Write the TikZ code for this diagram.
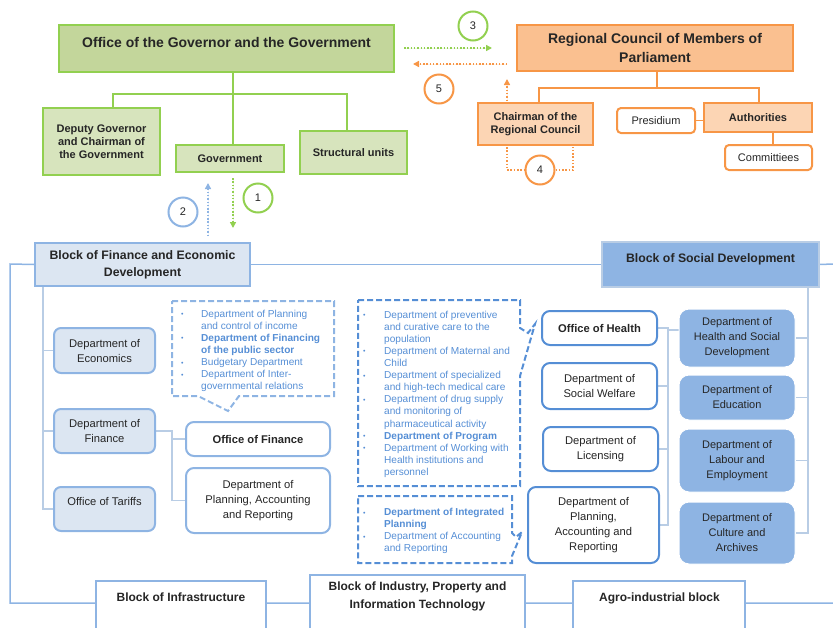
\documentclass[tikz,border=0pt]{standalone}
\usepackage{fontspec}
\setmainfont{Liberation Sans}
\usetikzlibrary{arrows.meta}
\pgfdeclarelayer{bg}
\pgfsetlayers{bg,main}
\definecolor{gline}{HTML}{92D050}
\definecolor{gfill}{HTML}{C3D69B}
\definecolor{gfill2}{HTML}{D7E4BD}
\definecolor{oline}{HTML}{F79646}
\definecolor{ofill}{HTML}{FAC090}
\definecolor{ofill2}{HTML}{FCD5B4}
\definecolor{bline}{HTML}{8EB4E3}
\definecolor{bline2}{HTML}{B9CDE5}
\definecolor{bfill}{HTML}{DCE6F2}
\definecolor{bmid}{HTML}{8EB4E3}
\definecolor{bdark}{HTML}{558ED5}
\definecolor{txt}{HTML}{262626}
\newcommand\fsz[2]{\fontsize{#1}{#2}\selectfont}
\newcommand\bx[7]{\node[#1, minimum width=#5pt-#3pt, minimum height=#6pt-#4pt] (#2) at ({(#3+#5)/2},{(#4+#6)/2}) {#7};}
\newcommand\bt{\raisebox{0.5pt}{\fsz{7}{12}\textbullet}}
\tikzset{
 every node/.style={text=txt, inner sep=2pt},
 gtop/.style={draw=gline, fill=gfill, line width=2pt},
 gsub/.style={draw=gline, fill=gfill2, line width=2pt, align=center, font=\bfseries\fsz{11}{13}},
 otop/.style={draw=oline, fill=ofill, line width=2pt, align=center, font=\bfseries\fsz{14}{19}},
 osub/.style={draw=oline, fill=ofill2, line width=2pt, align=center, font=\bfseries\fsz{11}{13}},
 owht/.style={draw=oline, fill=white, line width=2pt, rounded corners=4pt, font=\fsz{11}{13}},
 blk/.style={draw=bline, fill=bfill, line width=2pt, align=center, font=\bfseries\fsz{12.3}{17}},
 blk2/.style={draw=bline2, fill=bmid, line width=1.5pt},
 blkw/.style={draw=bline, fill=white, line width=2pt},
 blklbl/.style={align=center, font=\bfseries\fsz{12}{18}},
 lbox/.style={draw=bline, fill=bfill, line width=2pt, rounded corners=7pt, align=center, font=\fsz{11.2}{15}},
 wbox/.style={draw=bline, fill=white, line width=2pt, rounded corners=8pt, align=center, font=\fsz{11.2}{15}},
 wbox2/.style={draw=bdark, fill=white, line width=2pt, rounded corners=8pt, align=center, font=\fsz{11.2}{15}},
 rbox/.style={draw=white, fill=bmid, line width=1pt, rounded corners=10pt, align=center, font=\fsz{11}{15}},
 num/.style={circle, draw, line width=2pt, fill=white, minimum size=29pt, inner sep=0pt, font=\fsz{11}{13}},
 glink/.style={draw=gline, line width=1.5pt},
 olink/.style={draw=oline, line width=1.5pt},
 blink/.style={draw=bline, line width=1.5pt},
 blink2/.style={draw=bline2, line width=1.2pt},
 dots/.style={line width=1.5pt, dash pattern=on 1.5pt off 1.8pt},
 tip/.style={-{Triangle[length=6pt,width=6pt]}},
 call/.style={line width=2pt, dash pattern=on 6pt off 3pt},
 ctext/.style={text=bdark, font=\fsz{10.1}{12.1}, inner sep=0pt, anchor=north west},
}
\begin{document}
\begin{tikzpicture}[x=1pt,y=-1pt]
\useasboundingbox (0,0) rectangle (833,627);
% ---- top left (green)
\bx{gtop}{gov}{59}{25}{394}{72}{}
\node[font=\bfseries\fsz{14}{17}] (govlbl) at (226.5,42) {Office of the Governor and the Government};
\bx{gsub}{dep}{43}{108}{160}{175}{Deputy Governor\\and Chairman of\\the Government}
\bx{gsub}{govn}{176}{145}{284}{172}{Government}
\bx{gsub}{struct}{300}{131}{407}{174}{Structural units}
\coordinate (gj) at (233,94);
\coordinate (gl) at (113,94);
\coordinate (gr) at (347,94);
% ---- top right (orange)
\bx{otop}{rc}{517}{25}{793}{71}{Regional Council of Members of\\Parliament}
\bx{osub}{chair}{478}{103}{593}{145}{Chairman of the\\Regional Council}
\bx{owht}{pres}{617}{108}{695}{133}{Presidium}
\bx{osub}{auth}{704}{103}{812}{132}{Authorities}
\bx{owht}{comm}{725}{145}{812}{170}{Committiees}
\coordinate (oj) at (657,88);
\coordinate (ol) at (539,88);
\coordinate (or) at (759,88);
\coordinate (cj) at (773,140);
% ---- numbers
\node[num, draw=gline] (n1) at (258,198) {1};
\node[num, draw=bline] (n2) at (183,212) {2};
\node[num, draw=gline] (n3) at (473,26) {3};
\node[num, draw=oline] (n4) at (540,170) {4};
\node[num, draw=oline] (n5) at (439,89) {5};
\coordinate (a1s) at (233,178); \coordinate (a1e) at (233,228);
\coordinate (a2s) at (208,236); \coordinate (a2e) at (208,183);
\coordinate (a3s) at (404,48);  \coordinate (a3e) at (492,48);
\coordinate (a5s) at (507,64);  \coordinate (a5e) at (413,64);
\coordinate (a4s) at (507,101); \coordinate (a4e) at (507,79);
\coordinate (l4a) at (507,147); \coordinate (l4b) at (507,170);
\coordinate (l4c) at (573,170); \coordinate (l4d) at (573,147);
% ---- blocks
\bx{blk}{finblk}{35}{243}{250}{286}{Block of Finance and Economic\\Development}
\bx{blk2}{socblk}{602}{242}{819}{287}{}
\node[font=\bfseries\fsz{12.3}{17}] (soclbl) at (710.5,259) {Block of Social Development};
\coordinate (tl) at (10,264);
\coordinate (bl) at (10,603);
\coordinate (br) at (833,603);
\coordinate (tr) at (833,264);
% ---- finance block
\bx{lbox}{econ}{54}{328}{155}{373}{Department of\\Economics}
\bx{lbox}{finc}{54}{409}{155}{453}{Department of\\Finance}
\bx{lbox}{tariff}{54}{487}{155}{531}{Office of Tariffs\\\mbox{}}
\bx{wbox}{offin}{186}{422}{330}{456}{\textbf{Office of Finance}}
\bx{wbox}{lplan}{186}{468}{330}{533}{Department of\\Planning, Accounting\\and Reporting}
\coordinate (ltrunk) at (43,286);
\coordinate (fjoint) at (172,431);
% ---- callouts
\draw[call, draw=bline] (172,301) -- (334,301) -- (334,396) -- (239,396) -- (228,411) -- (198,396) -- (172,396) -- cycle;
\node[ctext] (c1) at (181,308.5) {%
\begin{tabular}{@{}p{20pt}@{}l@{}}
\bt & Department of Planning\\
    & and control of income\\
\bt & \textbf{Department of Financing}\\
    & \textbf{of the public sector}\\
\bt & Budgetary Department\\
\bt & Department of Inter-\\
    & governmental relations
\end{tabular}};
\draw[call, draw=bdark] (358,300) -- (520,300) -- (520,328) -- (528,333) -- (535,324) -- (520,376) -- (520,486) -- (358,486) -- cycle;
\node[ctext] (c2) at (363,309.5) {%
\begin{tabular}{@{}p{21pt}@{}l@{}}
\bt & Department of preventive\\
    & and curative care to the\\
    & population\\
\bt & Department of Maternal and\\
    & Child\\
\bt & Department of specialized\\
    & and high-tech medical care\\
\bt & Department of drug supply\\
    & and monitoring of\\
    & pharmaceutical activity\\
\bt & \textbf{Department of Program}\\
\bt & Department of Working with\\
    & Health institutions and\\
    & personnel
\end{tabular}};
\draw[call, draw=bdark] (358,496) -- (512,496) -- (512,533) -- (516,537) -- (522,532) -- (512,556) -- (512,563) -- (358,563) -- cycle;
\node[ctext] (c3) at (363,507) {%
\begin{tabular}{@{}p{21pt}@{}l@{}}
\bt & \textbf{Department of Integrated}\\
    & \textbf{Planning}\\
\bt & Department of Accounting\\
    & and Reporting
\end{tabular}};
% ---- social block
\bx{wbox2}{ohealth}{542}{311}{657}{345}{\textbf{Office of Health}}
\bx{wbox2}{swel}{542}{363}{657}{409}{Department of\\Social Welfare}
\bx{wbox2}{lic}{543}{427}{658}{471}{Department of\\Licensing}
\bx{wbox2}{rplan}{528}{487}{659}{563}{Department of\\Planning,\\Accounting and\\Reporting}
\bx{rbox}{hsd}{679}{309}{795}{367}{Department of\\Health and Social\\Development}
\bx{rbox}{edu}{679}{375}{795}{420}{Department of\\Education}
\bx{rbox}{lab}{679}{429}{795}{492}{Department of\\Labour and\\Employment}
\bx{rbox}{cult}{679}{502}{795}{564}{Department of\\Culture and\\Archives}
\coordinate (rj) at (668,330);
\coordinate (rt) at (808,287);
% ---- bottom blocks
\bx{blkw}{infra}{96}{581}{266}{640}{}
\node[blklbl] (infralbl) at (181,597) {Block of Infrastructure};
\bx{blkw}{indus}{310}{575}{525}{640}{}
\node[blklbl] (induslbl) at (417.5,596) {Block of Industry, Property and\\Information Technology};
\bx{blkw}{agro}{573}{581}{745}{640}{}
\node[blklbl] (agrolbl) at (659.5,598) {Agro-industrial block};
% ---- connectors
\begin{pgfonlayer}{bg}
\draw[glink] (gov.south -| gj) -- (govn.north -| gj);
\draw[glink] (dep.north -| gl) -- (gl) -- (gr) -- (struct.north -| gr);
\draw[olink] (rc.south -| oj) -- (oj);
\draw[olink] (chair.north -| ol) -- (ol) -- (or) -- (auth.north -| or);
\draw[olink] (pres.east) -- (pres.east -| auth.west);
\draw[olink] (auth.south -| cj) -- (comm.north -| cj);
\draw[blink] (finblk.west) -- (tl) -- (bl) -- (br);
\draw[blink] (finblk.east) -- (finblk.east -| socblk.west);
\draw[blink] (socblk.east |- finblk.east) -- (tr);
\draw[blink2] (ltrunk) |- (econ.west);
\draw[blink2] (ltrunk) |- (finc.west);
\draw[blink2] (ltrunk) |- (tariff.west);
\draw[blink2] (finc.east) -- (fjoint) |- (offin.west);
\draw[blink2] (fjoint) |- (lplan.west);
\draw[blink2] (ohealth.east) -- (ohealth.east -| rj) -- (rplan.east -| rj) -- (rplan.east);
\draw[blink2] (swel.east) -- (swel.east -| rj);
\draw[blink2] (lic.east) -- (lic.east -| rj);
\draw[blink2] (rj) -- (rj -| hsd.west);
\draw[blink2] (rt) |- (hsd.east);
\draw[blink2] (rt) |- (edu.east);
\draw[blink2] (rt) |- (lab.east);
\draw[blink2] (rt) |- (cult.east);
\end{pgfonlayer}
% ---- dotted arrows
\draw[dots, tip, draw=gline, fill=gline] (a1s) -- (a1e);
\draw[dots, tip, draw=bline, fill=bline] (a2s) -- (a2e);
\draw[dots, tip, draw=gline, fill=gline] (a3s) -- (a3e);
\draw[dots, tip, draw=oline, fill=oline] (a5s) -- (a5e);
\draw[dots, tip, draw=oline, fill=oline] (a4s) -- (a4e);
\draw[dots, draw=oline] (l4a) -- (l4b) -- (n4.west);
\draw[dots, draw=oline] (n4.east) -- (l4c) -- (l4d);
\end{tikzpicture}
\end{document}
